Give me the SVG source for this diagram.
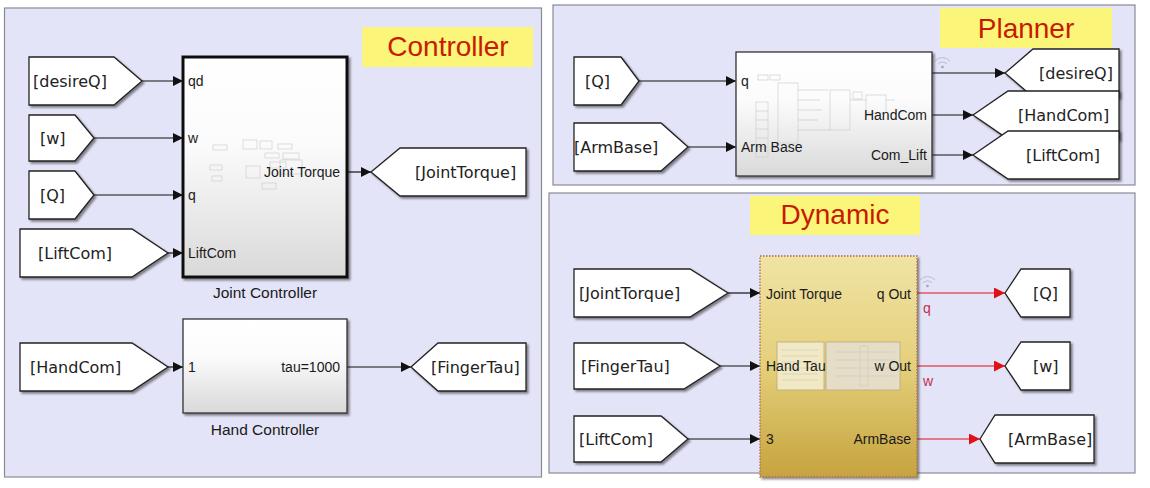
<svg xmlns="http://www.w3.org/2000/svg" width="1150" height="488" viewBox="0 0 1150 488">
<defs>
<linearGradient id="gBlock" x1="0" y1="0" x2="0" y2="1">
<stop offset="0" stop-color="#ffffff"/>
<stop offset="0.4" stop-color="#fbfbfb"/>
<stop offset="1" stop-color="#d9d9d9"/>
</linearGradient>
<linearGradient id="gGold" x1="0" y1="0" x2="0" y2="1">
<stop offset="0" stop-color="#f0e3a4"/>
<stop offset="0.5" stop-color="#e4cf7a"/>
<stop offset="1" stop-color="#c6a33e"/>
</linearGradient>
<filter id="sh" x="-10%" y="-10%" width="130%" height="140%">
<feDropShadow dx="2" dy="2" stdDeviation="1.2" flood-color="#000" flood-opacity="0.45"/>
</filter>
<marker id="ab" viewBox="0 0 10 10" refX="10" refY="5" markerWidth="10" markerHeight="10" markerUnits="userSpaceOnUse" orient="auto">
<path d="M0,0 L10,5 L0,10 z" fill="#111"/>
</marker>
<marker id="ar" viewBox="0 0 10 10" refX="10" refY="5" markerWidth="11" markerHeight="11" markerUnits="userSpaceOnUse" orient="auto">
<path d="M0,0 L10,5 L0,10 z" fill="#e0101a"/>
</marker>
</defs>
<style>
.panel{fill:#e4e4f8;stroke:#8a8a96;stroke-width:1.2}
.note{fill:#fbf67a}
.title{font-family:"Liberation Sans",Arial,sans-serif;font-size:28px;fill:#c81a00;text-anchor:middle}
.tag{fill:#ffffff;stroke:#222;stroke-width:1.3;filter:url(#sh)}
.tagt{font-family:"DejaVu Sans",sans-serif;font-size:16px;fill:#222}
.blk{fill:url(#gBlock);stroke:#333;stroke-width:1.3;filter:url(#sh)}
.blkb{fill:url(#gBlock);stroke:#111;stroke-width:3;filter:url(#sh)}
.port{font-family:"Liberation Sans",Arial,sans-serif;font-size:14px;fill:#1a1a1a}
.portr{font-family:"Liberation Sans",Arial,sans-serif;font-size:14px;fill:#1a1a1a;text-anchor:end}
.cap{font-family:"Liberation Sans",Arial,sans-serif;font-size:15.5px;fill:#1a1a1a;text-anchor:middle}
.w{stroke:#111;stroke-width:1.2;fill:none;marker-end:url(#ab)}
.wr{stroke:#e0101a;stroke-width:1.2;fill:none;marker-end:url(#ar)}
.sig{font-family:"Liberation Sans",Arial,sans-serif;font-size:14px;fill:#c0304a}
.faint{fill:none;stroke:#c8c8c8;stroke-width:0.6}
.wifi{fill:none;stroke:#b4bcd6;stroke-width:1}
</style>
<rect width="1150" height="488" fill="#ffffff"/>

<g id="panel-controller">
<rect class="panel" x="4.5" y="8" width="537" height="469"/>
<rect class="note" x="362" y="27" width="171" height="40"/>
<text class="title" x="448" y="56">Controller</text>
</g>
<g id="panel-planner">
<rect class="panel" x="553" y="5" width="582" height="180"/>
<rect class="note" x="940" y="8" width="172" height="40"/>
<text class="title" x="1026" y="38">Planner</text>
</g>
<g id="panel-dynamic">
<rect class="panel" x="549" y="193" width="586" height="280"/>
<rect class="note" x="750" y="196" width="170" height="39"/>
<text class="title" x="835" y="224">Dynamic</text>
</g>

<g id="connectors">
<line class="w" x1="142" y1="81" x2="183" y2="81"/>
<line class="w" x1="94" y1="138" x2="183" y2="138"/>
<line class="w" x1="94" y1="195" x2="183" y2="195"/>
<line class="w" x1="168" y1="253" x2="183" y2="253"/>
<line class="w" x1="347" y1="172" x2="371" y2="172"/>
<line class="w" x1="168" y1="367" x2="183" y2="367"/>
<line class="w" x1="347" y1="367" x2="411" y2="367"/>
<line class="w" x1="639" y1="81" x2="736" y2="81"/>
<line class="w" x1="688" y1="147" x2="736" y2="147"/>
<line class="w" x1="932" y1="73" x2="1005" y2="73"/>
<line class="w" x1="932" y1="115" x2="973" y2="115"/>
<line class="w" x1="932" y1="155" x2="973" y2="155"/>
<line class="w" x1="728" y1="293" x2="760" y2="293"/>
<line class="w" x1="720" y1="366" x2="760" y2="366"/>
<line class="w" x1="688" y1="439" x2="760" y2="439"/>
<line class="wr" x1="917" y1="293" x2="1005" y2="293"/>
<line class="wr" x1="917" y1="366" x2="1005" y2="366"/>
<line class="wr" x1="917" y1="439" x2="980" y2="439"/>
<text class="sig" x="923" y="313">q</text>
<text class="sig" x="923" y="386">w</text>
<path class="wifi" d="M938,64 a6,6 0 0 1 9,0 M935,61 a10,10 0 0 1 15,0"/>
<circle cx="942.5" cy="67" r="1.3" fill="#98a4c8"/>
<path class="wifi" d="M923,283 a6,6 0 0 1 9,0 M920,280 a10,10 0 0 1 15,0"/>
<circle cx="927.5" cy="286" r="1.3" fill="#98a4c8"/>
</g>

<g id="from-desireQ-c">
<polygon class="tag" points="29,57 114,57 142,81 114,105 29,105"/>
<text class="tagt" x="33" y="87">[desireQ]</text>
</g>
<g id="from-w-c">
<polygon class="tag" points="29,115 75,115 94,138 75,161 29,161"/>
<text class="tagt" x="40" y="144">[w]</text>
</g>
<g id="from-Q-c">
<polygon class="tag" points="29,171 75,171 94,195 75,219 29,219"/>
<text class="tagt" x="40" y="201">[Q]</text>
</g>
<g id="from-LiftCom-c">
<polygon class="tag" points="20,229 132,229 168,253 132,277 20,277"/>
<text class="tagt" x="38" y="259">[LiftCom]</text>
</g>
<g id="from-HandCom-c">
<polygon class="tag" points="20,343 132,343 168,367 132,391 20,391"/>
<text class="tagt" x="30" y="373">[HandCom]</text>
</g>

<g id="joint-controller">
<rect class="blkb" x="183" y="57" width="164" height="220"/>
<g class="faint">
<rect x="213" y="145" width="14" height="5"/><rect x="210" y="165" width="12" height="5"/><rect x="212" y="176" width="10" height="5"/>
<rect x="243" y="140" width="14" height="9"/><rect x="260" y="141" width="12" height="8"/><rect x="278" y="144" width="14" height="5"/>
<rect x="265" y="153" width="14" height="5"/><rect x="283" y="153" width="16" height="6"/><rect x="270" y="162" width="16" height="6"/>
<rect x="246" y="166" width="14" height="12"/><rect x="280" y="160" width="22" height="14"/><rect x="262" y="183" width="14" height="6"/>
</g>
<text class="port" x="188" y="86">qd</text>
<text class="port" x="188" y="143">w</text>
<text class="port" x="188" y="200">q</text>
<text class="port" x="188" y="258">LiftCom</text>
<text class="portr" x="340" y="177">Joint Torque</text>
<text class="cap" x="265" y="298">Joint Controller</text>
</g>

<g id="goto-JointTorque-c">
<polygon class="tag" points="371,172 400,148 526,148 526,196 400,196"/>
<text class="tagt" x="415" y="178">[JointTorque]</text>
</g>

<g id="hand-controller">
<rect class="blk" x="183" y="319" width="164" height="94"/>
<text class="port" x="188" y="372">1</text>
<text class="portr" x="340" y="372">tau=1000</text>
<text class="cap" x="265" y="435">Hand Controller</text>
</g>

<g id="goto-FingerTau-c">
<polygon class="tag" points="411,367 438,343 526,343 526,391 438,391"/>
<text class="tagt" x="431" y="373">[FingerTau]</text>
</g>

<g id="from-Q-p">
<polygon class="tag" points="574,57 621,57 639,81 621,105 574,105"/>
<text class="tagt" x="585" y="87">[Q]</text>
</g>
<g id="from-ArmBase-p">
<polygon class="tag" points="574,123 661,123 688,147 661,171 574,171"/>
<text class="tagt" x="574" y="153">[ArmBase]</text>
</g>

<g id="planner-block">
<rect class="blk" x="736" y="52" width="196" height="124"/>
<g class="faint">
<rect x="758" y="75" width="10" height="5"/><rect x="770" y="75" width="10" height="5"/>
<rect x="756" y="102" width="12" height="55"/><line x1="756" y1="111" x2="768" y2="111"/><line x1="756" y1="120" x2="768" y2="120"/><line x1="756" y1="129" x2="768" y2="129"/><line x1="756" y1="138" x2="768" y2="138"/><line x1="756" y1="147" x2="768" y2="147"/>
<rect x="778" y="83" width="20" height="60"/>
<line x1="798" y1="90" x2="828" y2="90"/><line x1="798" y1="100" x2="820" y2="100"/><line x1="798" y1="110" x2="822" y2="110"/><line x1="798" y1="120" x2="818" y2="120"/><line x1="798" y1="130" x2="830" y2="130"/>
<rect x="830" y="90" width="20" height="40"/><rect x="853" y="92" width="9" height="7"/><rect x="866" y="95" width="20" height="18"/>
<line x1="850" y1="100" x2="866" y2="100"/><line x1="886" y1="100" x2="895" y2="100"/>
</g>
<text class="port" x="741" y="86">q</text>
<text class="port" x="741" y="152">Arm Base</text>
<text class="portr" x="927" y="120">HandCom</text>
<text class="portr" x="927" y="160">Com_Lift</text>
</g>

<g id="goto-desireQ-p">
<polygon class="tag" points="1005,73 1033,49 1119,49 1119,97 1033,97"/>
<text class="tagt" x="1039" y="79">[desireQ]</text>
</g>
<g id="goto-HandCom-p">
<polygon class="tag" points="973,115 1008,91 1119,91 1119,139 1008,139"/>
<text class="tagt" x="1018" y="121">[HandCom]</text>
</g>
<g id="goto-LiftCom-p">
<polygon class="tag" points="973,155 1008,131 1119,131 1119,179 1008,179"/>
<text class="tagt" x="1026" y="161">[LiftCom]</text>
</g>

<g id="from-JointTorque-d">
<polygon class="tag" points="574,269 690,269 728,293 690,317 574,317"/>
<text class="tagt" x="579" y="299">[JointTorque]</text>
</g>
<g id="from-FingerTau-d">
<polygon class="tag" points="574,343 684,343 720,366 684,389 574,389"/>
<text class="tagt" x="581" y="372">[FingerTau]</text>
</g>
<g id="from-LiftCom-d">
<polygon class="tag" points="574,416 661,416 688,439 661,462 574,462"/>
<text class="tagt" x="579" y="445">[LiftCom]</text>
</g>

<g id="dynamic-block">
<rect x="760" y="256" width="157" height="221" fill="url(#gGold)" stroke="#b0684a" stroke-width="1.3" stroke-dasharray="1.5,1.5" filter="url(#sh)"/>
<rect x="777" y="342" width="47" height="48" fill="#f1e8c4" stroke="#b9ab80" stroke-width="0.8"/>
<rect x="826" y="342" width="74" height="48" fill="#e6ddc6" stroke="#b9ab80" stroke-width="0.8"/>
<g class="faint" stroke="#d8ccaa">
<line x1="782" y1="350" x2="818" y2="350"/><line x1="782" y1="356" x2="818" y2="356"/><line x1="782" y1="362" x2="818" y2="362"/><line x1="782" y1="368" x2="818" y2="368"/><line x1="782" y1="374" x2="818" y2="374"/><line x1="782" y1="380" x2="818" y2="380"/>
<rect x="860" y="346" width="8" height="40"/><line x1="835" y1="352" x2="895" y2="352"/><line x1="835" y1="360" x2="895" y2="360"/><line x1="835" y1="368" x2="895" y2="368"/><line x1="835" y1="376" x2="895" y2="376"/>
</g>
<text class="port" x="766" y="299">Joint Torque</text>
<text class="port" x="766" y="371">Hand Tau</text>
<text class="port" x="766" y="444">3</text>
<text class="portr" x="911" y="299">q Out</text>
<text class="portr" x="911" y="371">w Out</text>
<text class="portr" x="911" y="444">ArmBase</text>
</g>

<g id="goto-Q-d">
<polygon class="tag" points="1005,293 1021,269 1070,269 1070,317 1021,317"/>
<text class="tagt" x="1033" y="299">[Q]</text>
</g>
<g id="goto-w-d">
<polygon class="tag" points="1005,366 1021,342 1070,342 1070,390 1021,390"/>
<text class="tagt" x="1033" y="372">[w]</text>
</g>
<g id="goto-ArmBase-d">
<polygon class="tag" points="980,439 995,415 1094,415 1094,463 995,463"/>
<text class="tagt" x="1008" y="445">[ArmBase]</text>
</g>
</svg>
